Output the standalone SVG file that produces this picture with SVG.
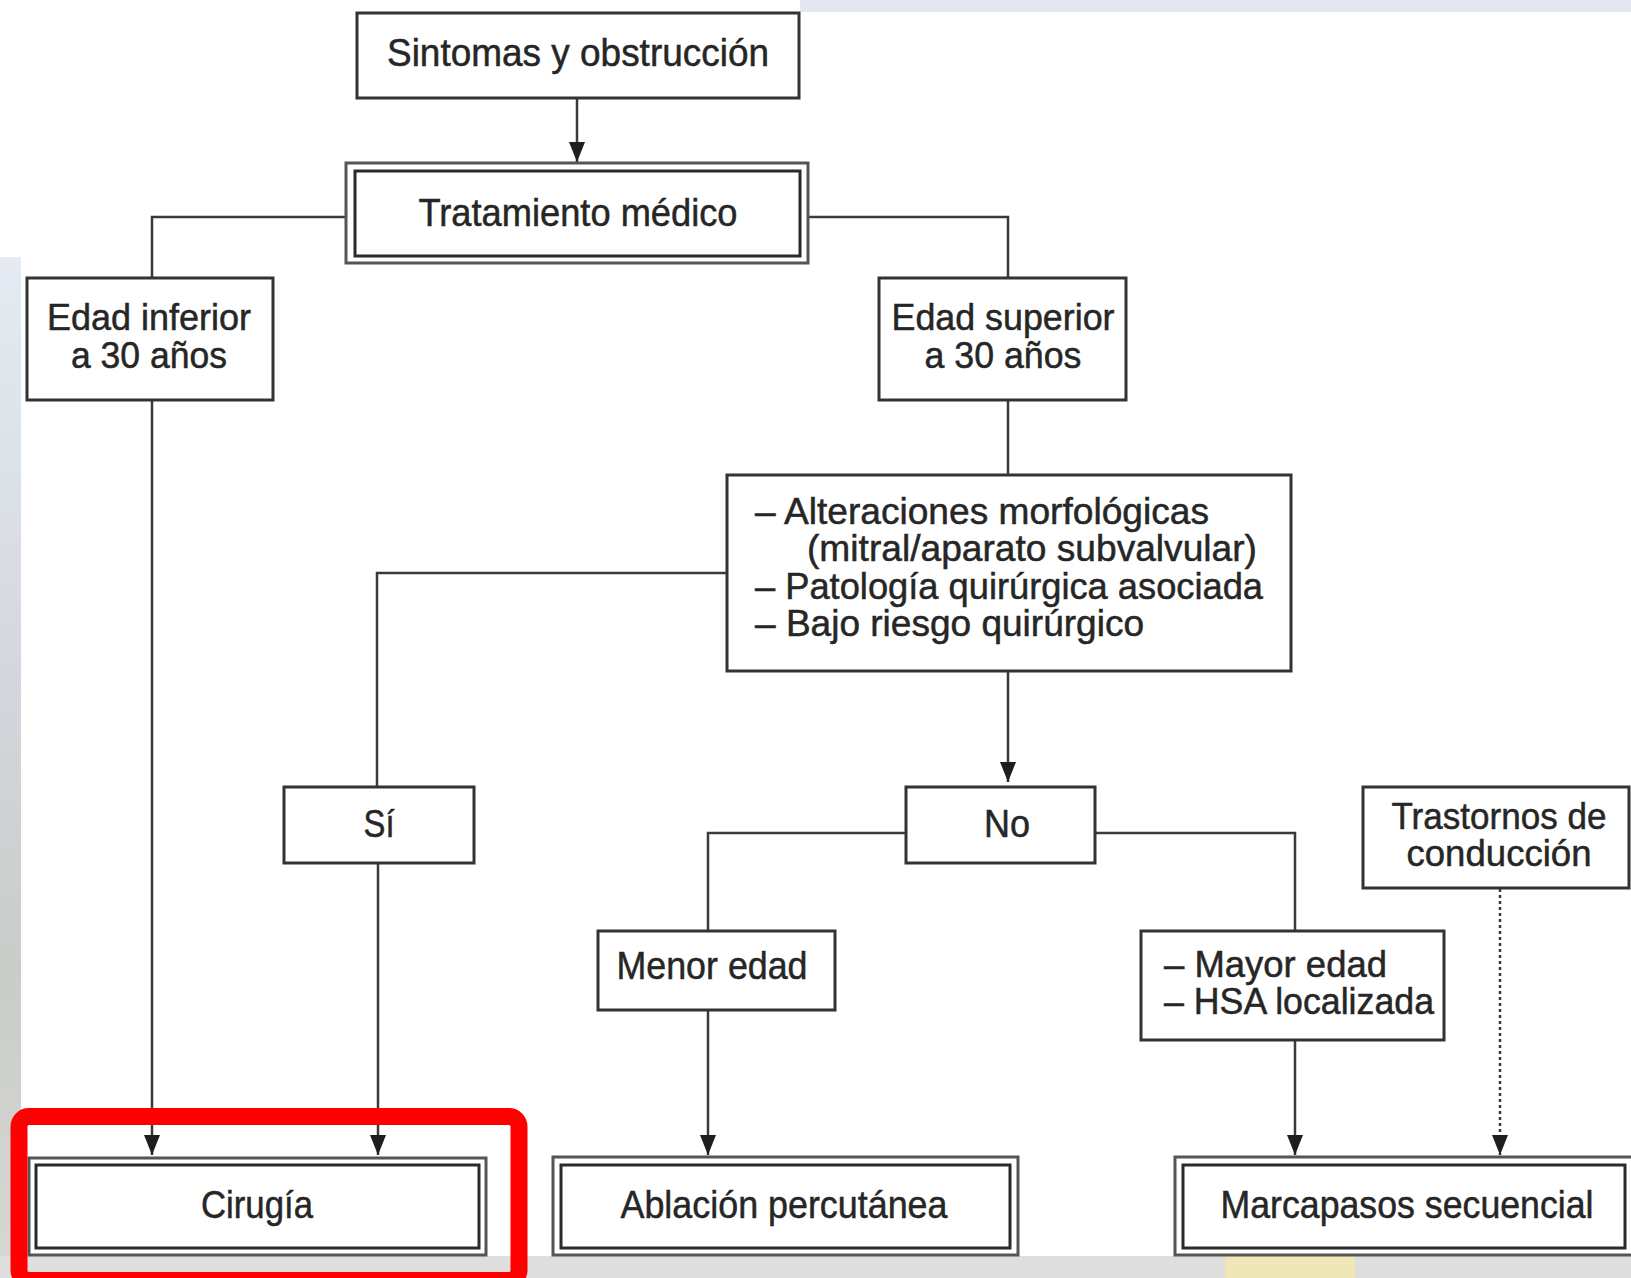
<svg xmlns="http://www.w3.org/2000/svg" width="1631" height="1278" viewBox="0 0 1631 1278">
  <defs>
    <style>
      .box { fill: #ffffff; stroke: #333333; stroke-width: 3; }
      .outer { fill: #ffffff; stroke: #555555; stroke-width: 3; }
      .inner { fill: #ffffff; stroke: #2a2a2a; stroke-width: 3; }
      .lbl { font-family: "Liberation Sans Narrow", "Liberation Sans", Arial, sans-serif; font-size: 39px; fill: #262626; stroke: #262626; stroke-width: 0.5; }
      .sm { font-size: 37px; }
      .mid { text-anchor: middle; }
      .conn { fill: none; stroke: #3a3a3a; stroke-width: 2.5; }
      .dot { fill: none; stroke: #3a3a3a; stroke-width: 2.5; stroke-dasharray: 3 3; }
    </style>
    <marker id="arr" markerUnits="userSpaceOnUse" markerWidth="22" markerHeight="16" refX="20" refY="8" orient="auto" viewBox="0 0 22 16">
      <path d="M0,0 L20,8 L0,16 z" fill="#1e1e1e"/>
    </marker>
    <linearGradient id="leftbg" x1="0" y1="0" x2="0" y2="1">
      <stop offset="0" stop-color="#e6eaf2"/>
      <stop offset="0.4" stop-color="#d4d8de"/>
      <stop offset="0.7" stop-color="#c9ccc8"/>
      <stop offset="1" stop-color="#d8d8d2"/>
    </linearGradient>
  </defs>

  <!-- background -->
  <rect x="0" y="0" width="1631" height="1278" fill="#ffffff"/>
  <rect x="0" y="257" width="21" height="1021" fill="url(#leftbg)"/>
  <rect x="800" y="0" width="831" height="12" fill="#e3e8ef"/>
  <rect x="0" y="1256" width="1631" height="22" fill="#dedede"/>
  <rect x="1225" y="1256" width="130" height="22" fill="#efe7b8"/>

  <!-- connectors -->
  <g id="connectors">
    <path class="conn" d="M577,98 V162" marker-end="url(#arr)"/>
    <path class="conn" d="M346,217 H152 V278"/>
    <path class="conn" d="M808,217 H1008 V278"/>
    <path class="conn" d="M1008,400 V474"/>
    <path class="conn" d="M727,573 H377 V787"/>
    <path class="conn" d="M1008,670 V782" marker-end="url(#arr)"/>
    <path class="conn" d="M905,833 H708 V931"/>
    <path class="conn" d="M1094,833 H1295 V931"/>
    <path class="conn" d="M152,400 V1155" marker-end="url(#arr)"/>
    <path class="conn" d="M378,863 V1155" marker-end="url(#arr)"/>
    <path class="conn" d="M708,1010 V1155" marker-end="url(#arr)"/>
    <path class="conn" d="M1295,1040 V1155" marker-end="url(#arr)"/>
    <path class="dot" d="M1500,889 V1155" marker-end="url(#arr)"/>
  </g>

  <g id="n-sintomas">
    <rect class="box" x="357" y="13" width="442" height="85"/>
    <text class="lbl mid" x="578" y="66" textLength="382" lengthAdjust="spacingAndGlyphs">Sintomas y obstrucción</text>
  </g>

  <g id="n-tratamiento">
    <rect class="outer" x="346" y="163" width="462" height="100"/>
    <rect class="inner" x="355" y="171" width="445" height="85"/>
    <text class="lbl mid" x="578" y="226" textLength="319" lengthAdjust="spacingAndGlyphs">Tratamiento médico</text>
  </g>

  <g id="n-edad-inferior">
    <rect class="box" x="27" y="278" width="246" height="122"/>
    <text class="lbl sm mid" x="149" y="330" textLength="204" lengthAdjust="spacingAndGlyphs">Edad inferior</text>
    <text class="lbl sm mid" x="149" y="368" textLength="156" lengthAdjust="spacingAndGlyphs">a 30 años</text>
  </g>

  <g id="n-edad-superior">
    <rect class="box" x="879" y="278" width="247" height="122"/>
    <text class="lbl sm mid" x="1003" y="330" textLength="223" lengthAdjust="spacingAndGlyphs">Edad superior</text>
    <text class="lbl sm mid" x="1003" y="368" textLength="157" lengthAdjust="spacingAndGlyphs">a 30 años</text>
  </g>

  <g id="n-criterios">
    <rect class="box" x="727" y="475" width="564" height="196"/>
    <text class="lbl sm" x="755" y="524" textLength="454" lengthAdjust="spacingAndGlyphs">– Alteraciones morfológicas</text>
    <text class="lbl sm" x="807" y="561" textLength="450" lengthAdjust="spacingAndGlyphs">(mitral/aparato subvalvular)</text>
    <text class="lbl sm" x="755" y="599" textLength="508" lengthAdjust="spacingAndGlyphs">– Patología quirúrgica asociada</text>
    <text class="lbl sm" x="755" y="636" textLength="389" lengthAdjust="spacingAndGlyphs">– Bajo riesgo quirúrgico</text>
  </g>

  <g id="n-si">
    <rect class="box" x="284" y="787" width="190" height="76"/>
    <text class="lbl mid" x="379" y="837" textLength="31" lengthAdjust="spacingAndGlyphs">Sí</text>
  </g>

  <g id="n-no">
    <rect class="box" x="906" y="787" width="189" height="76"/>
    <text class="lbl mid" x="1007" y="837" textLength="46" lengthAdjust="spacingAndGlyphs">No</text>
  </g>

  <g id="n-trastornos">
    <rect class="box" x="1363" y="787" width="266" height="101"/>
    <text class="lbl sm mid" x="1499" y="829" textLength="215" lengthAdjust="spacingAndGlyphs">Trastornos de</text>
    <text class="lbl sm mid" x="1499" y="866" textLength="185" lengthAdjust="spacingAndGlyphs">conducción</text>
  </g>

  <g id="n-menor-edad">
    <rect class="box" x="598" y="931" width="237" height="79"/>
    <text class="lbl mid" x="712" y="979" textLength="191" lengthAdjust="spacingAndGlyphs">Menor edad</text>
  </g>

  <g id="n-mayor-edad">
    <rect class="box" x="1141" y="931" width="303" height="109"/>
    <text class="lbl sm" x="1164" y="977" textLength="223" lengthAdjust="spacingAndGlyphs">– Mayor edad</text>
    <text class="lbl sm" x="1164" y="1014" textLength="270" lengthAdjust="spacingAndGlyphs">– HSA localizada</text>
  </g>

  <g id="n-cirugia">
    <rect class="outer" x="29" y="1158" width="457" height="97"/>
    <rect class="inner" x="36" y="1165" width="443" height="83"/>
    <text class="lbl mid" x="257" y="1218" textLength="112" lengthAdjust="spacingAndGlyphs">Cirugía</text>
  </g>

  <g id="n-ablacion">
    <rect class="outer" x="553" y="1157" width="465" height="98"/>
    <rect class="inner" x="561" y="1165" width="449" height="83"/>
    <text class="lbl mid" x="784" y="1218" textLength="327" lengthAdjust="spacingAndGlyphs">Ablación percutánea</text>
  </g>

  <g id="n-marcapasos">
    <rect class="outer" x="1175" y="1157" width="460" height="98"/>
    <rect class="inner" x="1183" y="1165" width="442" height="83"/>
    <text class="lbl mid" x="1407" y="1218" textLength="373" lengthAdjust="spacingAndGlyphs">Marcapasos secuencial</text>
  </g>

  <!-- red highlight -->
  <rect x="19" y="1116.5" width="500" height="164" rx="10" ry="10" fill="none" stroke="#ff0000" stroke-width="17"/>
</svg>
